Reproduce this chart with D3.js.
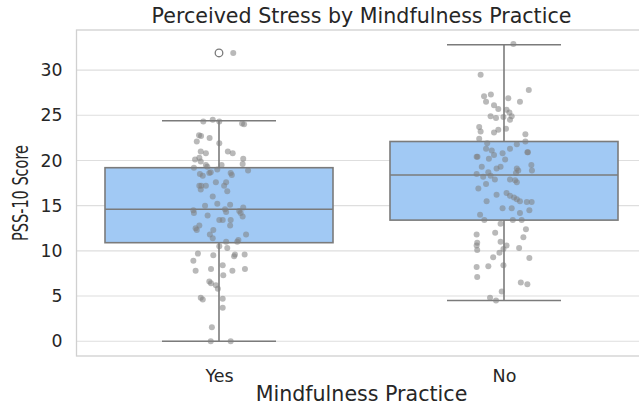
<!DOCTYPE html>
<html>
<head>
<meta charset="utf-8">
<script src="https://cdn.jsdelivr.net/npm/d3@7"></script>
<style>
  html, body { margin: 0; padding: 0; background: #ffffff; overflow: hidden; }
  svg { display: block; font-family: "DejaVu Sans", sans-serif; }
</style>
</head>
<body>
<svg id="chart" width="639" height="406"></svg>
<script>
// Groups on the x axis
const categories = ["Yes", "No"];

// Box summary per group: lower whisker, Q1, median, Q3, upper whisker
const whiskerLow  = [0.0, 4.5];
const q1          = [10.9, 13.4];
const medians     = [14.6, 18.4];
const q3          = [19.2, 22.1];
const whiskerHigh = [24.4, 32.8];
const fliers      = [[31.9], []];

// Individual PSS-10 scores, with their horizontal jitter (in category units)
const yesScores = [31.9, 24.5, 24.3, 24.3, 24.1, 24.0, 22.8, 22.7, 22.5, 22.1, 21.9, 21.0, 20.8, 21.0, 20.8,
  20.3, 20.1, 19.9, 20.2, 19.6, 19.5, 19.3, 19.5, 19.2, 19.0, 18.6, 18.7, 18.5, 18.3, 18.6, 18.4, 18.9,
  17.6, 17.6, 17.2, 17.2, 17.2, 17.2, 16.6, 16.0, 16.8, 15.0, 15.2, 15.1, 14.6, 14.3, 14.8, 14.5, 14.2,
  14.4, 14.2, 13.8, 13.9, 13.4, 13.4, 13.4, 12.8, 12.8, 12.5, 12.3, 12.3, 11.8, 11.8, 11.4, 11.2, 11.0,
  11.0, 10.5, 10.3, 9.7, 8.9, 9.5, 9.6, 9.4, 9.6, 8.4, 7.8, 8.0, 7.8, 8.0, 7.3, 6.6, 6.4, 6.2, 5.8,
  4.8, 4.6, 4.7, 3.7, 1.55, 0.0, 0.0];
const yesJitter = [0.050, -0.022, -0.055, 0.001, 0.081, 0.088, -0.070, -0.063, -0.033, -0.078, 0.001, -0.064, -0.046, 0.031, 0.048,
  -0.069, -0.084, -0.064, 0.085, 0.083, -0.046, -0.041, 0.009, -0.088, -0.006, -0.034, -0.029, -0.067, -0.057, 0.041, 0.045, 0.102,
  -0.011, 0.025, -0.069, -0.062, -0.046, 0.018, 0.029, -0.022, -0.064, -0.049, -0.006, 0.039, 0.021, 0.025, 0.085, -0.090, -0.088,
  0.071, 0.076, 0.083, -0.040, 0.001, 0.013, 0.041, 0.039, -0.069, -0.082, -0.078, -0.020, 0.095, -0.032, -0.022, 0.068, 0.064,
  0.025, 0.001, 0.029, -0.074, -0.090, -0.020, 0.056, 0.053, 0.090, 0.013, -0.082, -0.028, 0.047, 0.091, 0.015, -0.034, -0.028, -0.011, -0.004,
  -0.064, -0.057, 0.013, 0.013, -0.025, -0.029, 0.041];

const noScores = [32.9, 29.5, 27.8, 27.1, 26.5, 27.3, 26.9, 26.5, 26.1, 25.7, 25.6, 25.3, 24.9, 24.7, 24.8, 24.5, 24.9,
  23.7, 23.2, 23.1, 23.4, 23.5, 22.4, 22.9, 22.1, 21.9, 21.8, 20.4, 20.4, 21.3, 21.1, 20.6, 21.3, 20.8, 20.9, 20.9,
  20.2, 20.1, 19.3, 19.3, 19.1, 19.5, 18.9, 19.1, 18.9, 18.6, 18.5, 18.2, 18.7, 18.3, 17.9, 17.9, 17.8, 17.6, 17.4,
  16.9, 16.2, 16.4, 16.1, 15.9, 15.7, 15.5, 15.4, 15.4, 15.5, 14.7, 14.7, 14.5, 14.2, 14.0, 13.4, 13.4, 13.4, 13.0,
  12.4, 11.8, 10.9, 10.6, 10.1, 12.0, 11.5, 11.0, 10.6, 10.2, 9.8, 10.3, 9.3, 9.2, 8.2, 8.3, 8.4, 7.1, 6.5, 6.3,
  5.5, 4.8, 4.5];
const noJitter = [0.033, -0.082, 0.087, -0.070, -0.063, -0.046, 0.015, 0.056, -0.035, -0.020, 0.009, 0.019, -0.047, -0.028, -0.002, 0.021, 0.027,
  -0.087, -0.082, -0.035, -0.020, 0.007, -0.087, 0.075, 0.075, -0.059, 0.045, -0.096, -0.093, -0.063, -0.043, -0.035, 0.021, -0.005, 0.082, 0.084,
  -0.053, 0.004, -0.078, -0.012, -0.026, 0.096, 0.098, 0.045, 0.050, 0.042, -0.096, -0.073, -0.055, -0.047, -0.032, 0.021, 0.039, 0.045, -0.063,
  -0.090, -0.026, 0.009, 0.021, 0.035, 0.045, 0.056, 0.080, 0.097, -0.061, -0.005, 0.027, 0.089, 0.056, -0.084, -0.069, 0.031, 0.062, -0.012,
  0.077, -0.096, -0.094, -0.096, -0.094, -0.031, 0.068, -0.012, 0.009, -0.002, -0.016, 0.053, -0.038, 0.089, -0.096, -0.055, -0.002, -0.094, 0.059, 0.082,
  -0.008, -0.049, -0.028];

const yTicks = [0, 5, 10, 15, 20, 25, 30];

const title = "Perceived Stress by Mindfulness Practice";
const xTitle = "Mindfulness Practice";
const yTitle = "PSS-10 Score";

// Layout
const W = 639, H = 406;
const plot = { left: 76.5, right: 646.5, top: 30, bottom: 356 };
const svg = d3.select("#chart");

const x = d3.scalePoint().domain(categories).range([plot.left, plot.right]).padding(0.5);
const step = x.step();
const y = d3.scaleLinear().domain([-1.64, 34.44]).range([plot.bottom, plot.top]);

const textColor = "#262626";
const lineColor = "#7b7b7b";
const boxFill = "#a1c9f4";

// Horizontal grid
svg.append("g")
  .selectAll("line")
  .data(yTicks)
  .join("line")
  .attr("x1", plot.left).attr("x2", plot.right)
  .attr("y1", d => y(d)).attr("y2", d => y(d))
  .attr("stroke", "#dedede").attr("stroke-width", 1.1);

// Frame
svg.append("rect")
  .attr("x", plot.left).attr("y", plot.top)
  .attr("width", plot.right - plot.left).attr("height", plot.bottom - plot.top)
  .attr("fill", "none").attr("stroke", "#d0d0d0").attr("stroke-width", 1.3);

// Y axis labels (no tick marks)
const yAxis = d3.axisLeft(y).tickValues(yTicks).tickSize(0).tickPadding(14);
const gy = svg.append("g").attr("transform", `translate(${plot.left},0)`).call(yAxis);
gy.select(".domain").remove();
gy.selectAll("text").attr("fill", textColor).style("font-size", "17.3px").style("font-family", "DejaVu Sans");

// X axis labels
const xAxis = d3.axisBottom(x).tickSize(0).tickPadding(14);
const gx = svg.append("g").attr("transform", `translate(0,${plot.bottom})`).call(xAxis);
gx.select(".domain").remove();
gx.selectAll("text").attr("fill", textColor).style("font-size", "17.5px").style("font-family", "DejaVu Sans");

// Boxes
const boxW = step * 0.8;
const capW = boxW / 2;
const boxes = svg.append("g");
categories.forEach((c, i) => {
  const cx = x(c);
  const g = boxes.append("g");
  // whiskers
  g.append("line").attr("x1", cx).attr("x2", cx).attr("y1", y(q3[i])).attr("y2", y(whiskerHigh[i]))
    .attr("stroke", lineColor).attr("stroke-width", 1.6);
  g.append("line").attr("x1", cx).attr("x2", cx).attr("y1", y(q1[i])).attr("y2", y(whiskerLow[i]))
    .attr("stroke", lineColor).attr("stroke-width", 1.6);
  // caps
  [whiskerLow[i], whiskerHigh[i]].forEach(v => {
    g.append("line").attr("x1", cx - capW / 2).attr("x2", cx + capW / 2).attr("y1", y(v)).attr("y2", y(v))
      .attr("stroke", lineColor).attr("stroke-width", 1.6);
  });
  // box
  g.append("rect").attr("x", cx - boxW / 2).attr("width", boxW)
    .attr("y", y(q3[i])).attr("height", y(q1[i]) - y(q3[i]))
    .attr("fill", boxFill).attr("stroke", lineColor).attr("stroke-width", 1.6);
  // median
  g.append("line").attr("x1", cx - boxW / 2).attr("x2", cx + boxW / 2).attr("y1", y(medians[i])).attr("y2", y(medians[i]))
    .attr("stroke", lineColor).attr("stroke-width", 1.6);
  // outliers
  g.selectAll("circle.flier").data(fliers[i]).join("circle").attr("class", "flier")
    .attr("cx", cx).attr("cy", d => y(d)).attr("r", 3.8)
    .attr("fill", "none").attr("stroke", lineColor).attr("stroke-width", 1.3);
});

// Strip points
const groups = [
  { cat: "Yes", scores: yesScores, jitter: yesJitter },
  { cat: "No", scores: noScores, jitter: noJitter }
];
const pts = svg.append("g");
groups.forEach(gr => {
  pts.append("g").selectAll("circle")
    .data(gr.scores.map((v, k) => ({ v, j: gr.jitter[k] })))
    .join("circle")
    .attr("cx", d => x(gr.cat) + d.j * step)
    .attr("cy", d => y(d.v))
    .attr("r", 3)
    .attr("fill", "#808080")
    .attr("fill-opacity", 0.55);
});

// Titles
svg.append("text")
  .attr("x", (plot.left + plot.right) / 2).attr("y", 23)
  .attr("text-anchor", "middle").attr("fill", textColor)
  .style("font-size", "20.6px")
  .text(title);

svg.append("text")
  .attr("x", (plot.left + plot.right) / 2).attr("y", 400.5)
  .attr("text-anchor", "middle").attr("fill", textColor)
  .style("font-size", "20.6px")
  .text(xTitle);

svg.append("text")
  .attr("transform", `translate(28,${(plot.top + plot.bottom) / 2}) rotate(-90) scale(0.69,1)`)
  .attr("text-anchor", "middle").attr("fill", textColor)
  .style("font-size", "21px")
  .text(yTitle);
</script>
</body>
</html>
